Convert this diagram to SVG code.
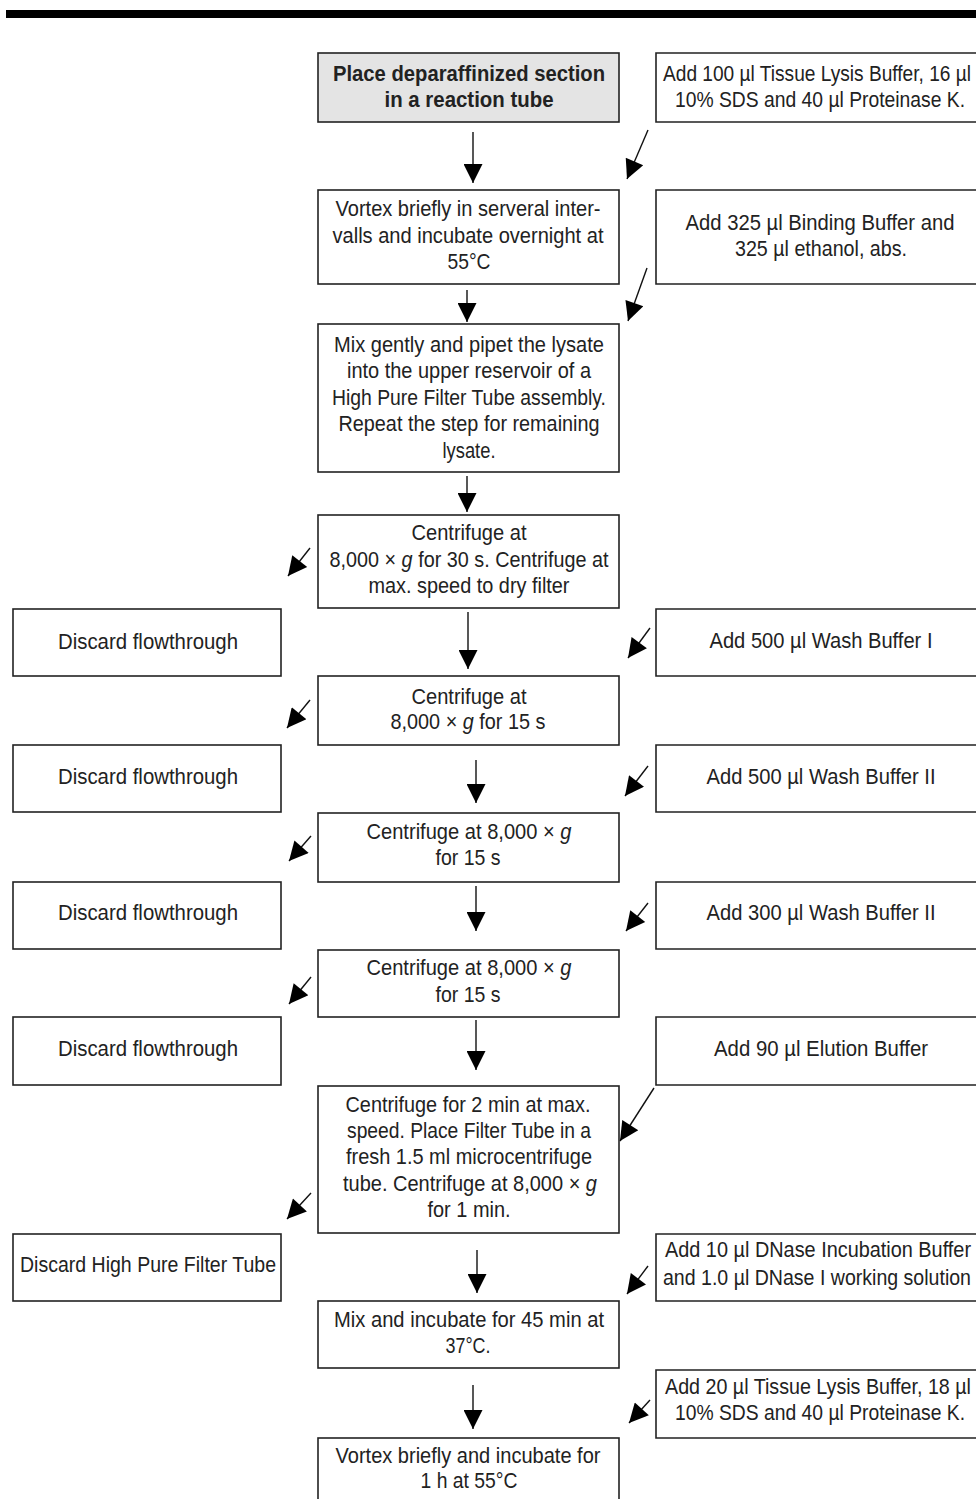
<svg xmlns="http://www.w3.org/2000/svg" width="976" height="1499" viewBox="0 0 976 1499">
<defs>
<style>
.box{fill:#fff;stroke:#222;stroke-width:1.6}
.gray{fill:#e4e4e4}
text{font-family:"Liberation Sans",Arial,sans-serif;font-size:22px;fill:#222;text-anchor:middle}
.b{font-weight:bold}
.i{font-style:italic}
.c line{stroke:#111;stroke-width:1.4;marker-end:url(#ah)}
</style>
<marker id="ah" viewBox="0 0 10 10" refX="10" refY="5" markerWidth="21" markerHeight="19" markerUnits="userSpaceOnUse" orient="auto">
<path d="M0,0 L10,5 L0,10 z" fill="#000"/>
</marker>
</defs>
<rect x="6" y="10" width="970" height="8" fill="#000"/>

<g id="n1"><rect class="box gray" x="318" y="53" width="301" height="69"/>
<text class="b" x="469" y="81" textLength="272" lengthAdjust="spacingAndGlyphs">Place deparaffinized section</text>
<text class="b" x="469" y="107" textLength="169" lengthAdjust="spacingAndGlyphs">in a reaction tube</text></g>
<g id="r1"><path class="box" d="M976,53 H656 V122 H976"/>
<text x="817" y="81" textLength="308" lengthAdjust="spacingAndGlyphs">Add 100 µl Tissue Lysis Buffer, 16 µl</text>
<text x="820" y="107" textLength="290" lengthAdjust="spacingAndGlyphs">10% SDS and 40 µl Proteinase K.</text></g>

<g id="n2"><rect class="box" x="318" y="190" width="301" height="94"/>
<text x="468" y="216" textLength="265" lengthAdjust="spacingAndGlyphs">Vortex briefly in serveral inter-</text>
<text x="468" y="243" textLength="271" lengthAdjust="spacingAndGlyphs">valls and incubate overnight at</text>
<text x="469" y="269" textLength="43" lengthAdjust="spacingAndGlyphs">55°C</text></g>
<g id="r2"><path class="box" d="M976,190 H656 V284 H976"/>
<text x="820" y="230" textLength="269" lengthAdjust="spacingAndGlyphs">Add 325 µl Binding Buffer and</text>
<text x="821" y="256" textLength="172" lengthAdjust="spacingAndGlyphs">325 µl ethanol, abs.</text></g>

<g id="n3"><rect class="box" x="318" y="324" width="301" height="148"/>
<text x="469" y="352" textLength="270" lengthAdjust="spacingAndGlyphs">Mix gently and pipet the lysate</text>
<text x="469" y="378" textLength="244" lengthAdjust="spacingAndGlyphs">into the upper reservoir of a</text>
<text x="469" y="405" textLength="274" lengthAdjust="spacingAndGlyphs">High Pure Filter Tube assembly.</text>
<text x="469" y="431" textLength="261" lengthAdjust="spacingAndGlyphs">Repeat the step for remaining</text>
<text x="469" y="458" textLength="53" lengthAdjust="spacingAndGlyphs">lysate.</text></g>

<g id="n4"><rect class="box" x="318" y="515" width="301" height="93"/>
<text x="469" y="540" textLength="115" lengthAdjust="spacingAndGlyphs">Centrifuge at</text>
<text x="469" y="567" textLength="279" lengthAdjust="spacingAndGlyphs">8,000 × <tspan class="i">g</tspan> for 30 s. Centrifuge at</text>
<text x="469" y="593" textLength="201" lengthAdjust="spacingAndGlyphs">max. speed to dry filter</text></g>

<g id="d1"><rect class="box" x="13" y="609" width="268" height="67"/>
<text x="148" y="649" textLength="180" lengthAdjust="spacingAndGlyphs">Discard flowthrough</text></g>
<g id="r3"><path class="box" d="M976,609 H656 V676 H976"/>
<text x="821" y="648" textLength="223" lengthAdjust="spacingAndGlyphs">Add 500 µl Wash Buffer I</text></g>

<g id="n5"><rect class="box" x="318" y="676" width="301" height="69"/>
<text x="469" y="704" textLength="115" lengthAdjust="spacingAndGlyphs">Centrifuge at</text>
<text x="468" y="729" textLength="155" lengthAdjust="spacingAndGlyphs">8,000 × <tspan class="i">g</tspan> for 15 s</text></g>

<g id="d2"><rect class="box" x="13" y="745" width="268" height="67"/>
<text x="148" y="784" textLength="180" lengthAdjust="spacingAndGlyphs">Discard flowthrough</text></g>
<g id="r4"><path class="box" d="M976,745 H656 V812 H976"/>
<text x="821" y="784" textLength="229" lengthAdjust="spacingAndGlyphs">Add 500 µl Wash Buffer II</text></g>

<g id="n6"><rect class="box" x="318" y="813" width="301" height="69"/>
<text x="469" y="839" textLength="205" lengthAdjust="spacingAndGlyphs">Centrifuge at 8,000 × <tspan class="i">g</tspan></text>
<text x="468" y="865" textLength="65" lengthAdjust="spacingAndGlyphs">for 15 s</text></g>

<g id="d3"><rect class="box" x="13" y="882" width="268" height="67"/>
<text x="148" y="920" textLength="180" lengthAdjust="spacingAndGlyphs">Discard flowthrough</text></g>
<g id="r5"><path class="box" d="M976,882 H656 V949 H976"/>
<text x="821" y="920" textLength="229" lengthAdjust="spacingAndGlyphs">Add 300 µl Wash Buffer II</text></g>

<g id="n7"><rect class="box" x="318" y="950" width="301" height="67"/>
<text x="469" y="975" textLength="205" lengthAdjust="spacingAndGlyphs">Centrifuge at 8,000 × <tspan class="i">g</tspan></text>
<text x="468" y="1002" textLength="65" lengthAdjust="spacingAndGlyphs">for 15 s</text></g>

<g id="d4"><rect class="box" x="13" y="1017" width="268" height="68"/>
<text x="148" y="1056" textLength="180" lengthAdjust="spacingAndGlyphs">Discard flowthrough</text></g>
<g id="r6"><path class="box" d="M976,1017 H656 V1085 H976"/>
<text x="821" y="1056" textLength="214" lengthAdjust="spacingAndGlyphs">Add 90 µl Elution Buffer</text></g>

<g id="n8"><rect class="box" x="318" y="1086" width="301" height="147"/>
<text x="468" y="1112" textLength="245" lengthAdjust="spacingAndGlyphs">Centrifuge for 2 min at max.</text>
<text x="469" y="1138" textLength="244" lengthAdjust="spacingAndGlyphs">speed. Place Filter Tube in a</text>
<text x="469" y="1164" textLength="246" lengthAdjust="spacingAndGlyphs">fresh 1.5 ml microcentrifuge</text>
<text x="470" y="1191" textLength="254" lengthAdjust="spacingAndGlyphs">tube. Centrifuge at 8,000 × <tspan class="i">g</tspan></text>
<text x="469" y="1217" textLength="83" lengthAdjust="spacingAndGlyphs">for 1 min.</text></g>

<g id="d5"><rect class="box" x="13" y="1234" width="268" height="67"/>
<text x="148" y="1272" textLength="256" lengthAdjust="spacingAndGlyphs">Discard High Pure Filter Tube</text></g>
<g id="r7"><path class="box" d="M976,1234 H656 V1301 H976"/>
<text x="818" y="1257" textLength="306" lengthAdjust="spacingAndGlyphs">Add 10 µl DNase Incubation Buffer</text>
<text x="817" y="1285" textLength="308" lengthAdjust="spacingAndGlyphs">and 1.0 µl DNase I working solution</text></g>

<g id="n9"><rect class="box" x="318" y="1301" width="301" height="67"/>
<text x="469" y="1327" textLength="270" lengthAdjust="spacingAndGlyphs">Mix and incubate for 45 min at</text>
<text x="468" y="1353" textLength="45" lengthAdjust="spacingAndGlyphs">37°C.</text></g>
<g id="r8"><path class="box" d="M976,1370 H656 V1438 H976"/>
<text x="818" y="1394" textLength="306" lengthAdjust="spacingAndGlyphs">Add 20 µl Tissue Lysis Buffer, 18 µl</text>
<text x="820" y="1420" textLength="290" lengthAdjust="spacingAndGlyphs">10% SDS and 40 µl Proteinase K.</text></g>

<g id="n10"><rect class="box" x="318" y="1438" width="301" height="80"/>
<text x="468" y="1463" textLength="265" lengthAdjust="spacingAndGlyphs">Vortex briefly and incubate for</text>
<text x="469" y="1488" textLength="97" lengthAdjust="spacingAndGlyphs">1 h at 55°C</text></g>

<g id="connectors" class="c">
<line x1="473" y1="132" x2="473" y2="183"/>
<line x1="467" y1="290" x2="467" y2="322"/>
<line x1="467" y1="476" x2="467" y2="512"/>
<line x1="468" y1="612" x2="468" y2="669"/>
<line x1="476" y1="760" x2="476" y2="803"/>
<line x1="476" y1="886" x2="476" y2="931"/>
<line x1="476" y1="1020" x2="476" y2="1070"/>
<line x1="477" y1="1250" x2="477" y2="1293"/>
<line x1="473" y1="1385" x2="473" y2="1429"/>
<line x1="648" y1="130" x2="627" y2="179"/>
<line x1="647" y1="268" x2="628" y2="321"/>
<line x1="650" y1="628" x2="628" y2="658"/>
<line x1="648" y1="766" x2="625" y2="796"/>
<line x1="648" y1="903" x2="626" y2="931"/>
<line x1="654" y1="1088" x2="620" y2="1141"/>
<line x1="648" y1="1266" x2="627" y2="1294"/>
<line x1="650" y1="1400" x2="629" y2="1423"/>
<line x1="310" y1="548" x2="288" y2="576"/>
<line x1="310" y1="700" x2="287" y2="728"/>
<line x1="311" y1="836" x2="289" y2="861"/>
<line x1="311" y1="977" x2="289" y2="1004"/>
<line x1="311" y1="1193" x2="287" y2="1219"/>
</g>
</svg>
